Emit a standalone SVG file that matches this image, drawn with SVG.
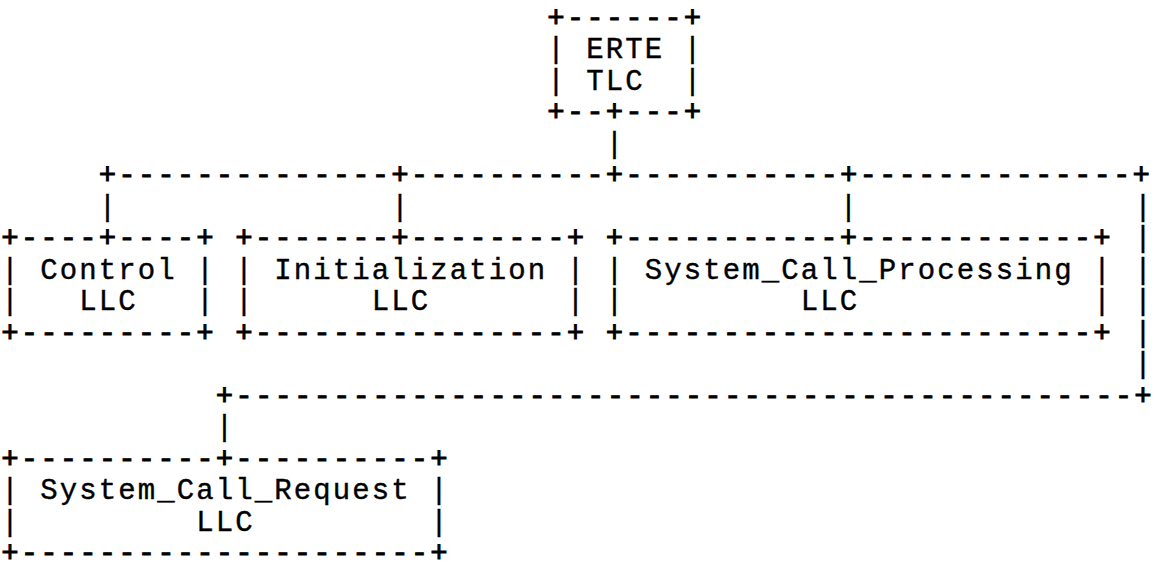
<svg xmlns="http://www.w3.org/2000/svg" width="1156" height="562" viewBox="0 0 1156 562" xml:space="preserve">
  <style>
    text { font-family: "Liberation Mono", "DejaVu Sans Mono", monospace; font-size: 29px; letter-spacing: 2.1px; fill: #000; stroke: #000; stroke-width: 0.4px; white-space: pre; }
    .rule { stroke-width: 0.9px; }
  </style>
  <rect width="1156" height="562" fill="#fff"/>

  <!-- character grid: column pitch 19.5px, row pitch 31.5px -->
  <g id="connectors">
    <text x="605.8" y="152.5">|</text>
    <text class="rule" x="98.8" y="184">+--------------+----------+-----------+--------------+</text>
    <text x="98.8" y="215.5">|</text>
    <text x="391.3" y="215.5">|</text>
    <text x="839.8" y="215.5">|</text>
    <text x="1134.3" y="215.5">|</text>
    <text x="1134.3" y="247">|</text>
    <text x="1134.3" y="278.5">|</text>
    <text x="1134.3" y="310">|</text>
    <text x="1134.3" y="341.5">|</text>
    <text x="1134.3" y="373">|</text>
    <text class="rule" x="215.8" y="404.5" textLength="938" lengthAdjust="spacing">+----------------------------------------------+</text>
    <text x="215.8" y="436">|</text>
  </g>

  <g id="erte-tlc">
    <text class="rule" x="547.3" y="26.5">+------+</text>
    <text x="547.3" y="58">| ERTE |</text>
    <text x="547.3" y="89.5">| TLC  |</text>
    <text class="rule" x="547.3" y="121">+--+---+</text>
  </g>

  <g id="control-llc">
    <text class="rule" x="1.3" y="247">+----+----+</text>
    <text x="1.3" y="278.5">| Control |</text>
    <text x="1.3" y="310">|   LLC   |</text>
    <text class="rule" x="1.3" y="341.5">+---------+</text>
  </g>

  <g id="initialization-llc">
    <text class="rule" x="235.3" y="247">+-------+--------+</text>
    <text x="235.3" y="278.5">| Initialization |</text>
    <text x="235.3" y="310">|      LLC       |</text>
    <text class="rule" x="235.3" y="341.5">+----------------+</text>
  </g>

  <g id="system-call-processing-llc">
    <text class="rule" x="605.8" y="247">+-----------+------------+</text>
    <text x="605.8" y="278.5">| System_Call_Processing |</text>
    <text x="605.8" y="310">|         LLC            |</text>
    <text class="rule" x="605.8" y="341.5">+------------------------+</text>
  </g>

  <g id="system-call-request-llc">
    <text class="rule" x="1.3" y="467.5">+----------+----------+</text>
    <text x="1.3" y="499">| System_Call_Request |</text>
    <text x="1.3" y="530.5">|         LLC         |</text>
    <text class="rule" x="1.3" y="562">+---------------------+</text>
  </g>
</svg>
